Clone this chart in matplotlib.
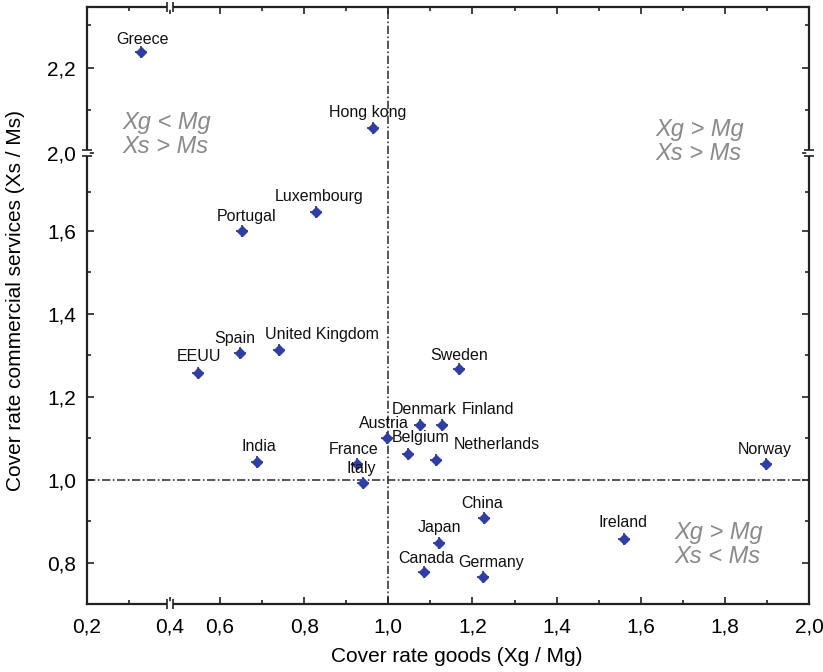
import numpy as np
import matplotlib
matplotlib.use("Agg")
import matplotlib.pyplot as plt
from matplotlib import transforms
from matplotlib.path import Path

plt.rcParams['font.family'] = ['Liberation Sans', 'DejaVu Sans']

countries = ['Greece', 'Hong kong', 'Luxembourg', 'Portugal', 'EEUU', 'Spain',
             'United Kingdom', 'India', 'France', 'Italy', 'Austria', 'Belgium',
             'Denmark', 'Finland', 'Netherlands', 'Sweden', 'Norway', 'China',
             'Japan', 'Canada', 'Germany', 'Ireland']
goods = [0.33, 0.964, 0.829, 0.653, 0.51, 0.648, 0.741, 0.689, 0.926, 0.941,
         0.998, 1.048, 1.076, 1.128, 1.114, 1.169, 1.898, 1.228, 1.121, 1.086,
         1.225, 1.561]
services = [2.237, 2.058, 1.70, 1.60, 1.258, 1.306, 1.313, 1.043, 1.039, 0.993,
            1.101, 1.063, 1.133, 1.133, 1.048, 1.267, 1.039, 0.908, 0.848, 0.778,
            0.764, 0.858]
# label offset from marker, pixels (x right, y up)
label_off = [(2, 13), (-5, 16), (3, 15), (4, 14), (1, 16), (-5, 14),
             (43, 15), (1, 15), (-4, 14), (-2, 14), (-4, 14), (12, 16),
             (4, 15), (46, 15), (61, 15), (0, 14), (-1, 14), (-2, 14),
             (0, 15), (2, 13), (8, 15), (-1, 16)]

xticks = [0.2, 0.4, 0.6, 0.8, 1.0, 1.2, 1.4, 1.6, 1.8, 2.0]
xminor = [0.3, 0.7, 0.9, 1.1, 1.3, 1.5, 1.7, 1.9]
yticks = [0.8, 1.0, 1.2, 1.4, 1.6, 2.0, 2.2]
yminor = [0.9, 1.1, 1.3, 1.5, 1.8, 2.1, 2.3]

# broken axes: piecewise linear scales
x_knots, x_pos = [0.2, 0.4, 0.6, 2.0], [0, 83, 133, 722]
y_knots, y_pos = [0.7, 1.6, 2.0, 2.343], [0, 373, 451, 597]


def piecewise(kin, kout):
    kin = np.asarray(kin, float)
    kout = np.asarray(kout, float)
    s0 = (kout[1] - kout[0]) / (kin[1] - kin[0])
    s1 = (kout[-1] - kout[-2]) / (kin[-1] - kin[-2])

    def f(v):
        v = np.asarray(v, float)
        out = np.interp(v, kin, kout)
        out = np.where(v < kin[0], kout[0] + (v - kin[0]) * s0, out)
        out = np.where(v > kin[-1], kout[-1] + (v - kin[-1]) * s1, out)
        return out
    return f


fig = plt.figure(figsize=(8.23, 6.72), dpi=100)
ax = fig.add_axes([87 / 823, 1 - 604 / 672, 722 / 823, 597 / 672])
ax.set_xscale('function', functions=(piecewise(x_knots, x_pos), piecewise(x_pos, x_knots)))
ax.set_yscale('function', functions=(piecewise(y_knots, y_pos), piecewise(y_pos, y_knots)))
ax.set_xlim(0.2, 2.0)
ax.set_ylim(0.7, 2.343)

ax.axhline(1.0, color='#3a3a3a', lw=1.2, dashes=(5, 1.5, 1, 1.5), zorder=1)
ax.axvline(1.0, color='#3a3a3a', lw=1.2, dashes=(5, 1.5, 1, 1.5), zorder=1)

blue = '#2f3ea0'
ax.plot(goods, services, 'D', ms=5.5, color=blue, mec=blue, zorder=3)
ax.plot(goods, services, '+', ms=8.5, mew=1.3, color=blue, zorder=3)

for name, x, y, off in zip(countries, goods, services, label_off):
    ax.annotate(name, (x, y), xytext=off, textcoords='offset pixels',
                ha='center', va='center', fontsize=11.5, color='#111111')

quad = dict(fontsize=17, style='italic', color='#8a8a8a', ha='left', va='center',
            linespacing=1.05, transform=ax.transAxes)
ax.text(0.0485, 0.787, 'Xg < Mg\nXs > Ms', **quad)
ax.text(0.788, 0.775, 'Xg > Mg\nXs > Ms', **quad)
ax.text(0.813, 0.100, 'Xg > Mg\nXs < Ms', **quad)

ax.set_xticks(xticks)
ax.set_xticklabels([f'{v:.1f}'.replace('.', ',') for v in xticks])
ax.set_xticks(xminor, minor=True)
ax.set_yticks(yticks)
ax.set_yticklabels([f'{v:.1f}'.replace('.', ',') for v in yticks])
ax.set_yticks(yminor, minor=True)
ax.tick_params(which='both', direction='in', top=True, right=True, labelsize=15,
               width=1.2, color='#222222')
ax.tick_params(which='major', length=5)
ax.tick_params(which='minor', length=3)
ax.tick_params(axis='x', pad=10)
ax.tick_params(axis='y', pad=8)
for s in ax.spines.values():
    s.set_linewidth(1.6)
    s.set_color('#222222')

ax.set_xlabel('Cover rate goods (Xg / Mg)', fontsize=15)
ax.set_ylabel('Cover rate commercial services (Xs / Ms)', fontsize=15)
ax.xaxis.set_label_coords(0.5125, -0.072)
ax.yaxis.set_label_coords(-0.086, 0.509)

# break symbols on spines
vbreak = Path([(-0.6, -1), (-0.6, 1), (0.6, -1), (0.6, 1)],
              [Path.MOVETO, Path.LINETO, Path.MOVETO, Path.LINETO])
hbreak = Path([(-1, -0.6), (1, -0.6), (-1, 0.6), (1, 0.6)],
              [Path.MOVETO, Path.LINETO, Path.MOVETO, Path.LINETO])
tx = transforms.blended_transform_factory(ax.transData, ax.transAxes)
ty = transforms.blended_transform_factory(ax.transAxes, ax.transData)
for yf in (0, 1):
    ax.plot([0.4], [yf], transform=tx, marker='_', ms=4, mew=4, color='white',
            clip_on=False, zorder=5)
    ax.plot([0.4], [yf], transform=tx, marker=vbreak, ms=7, mew=1.2,
            color='#222222', clip_on=False, zorder=6)
for xf in (0, 1):
    ax.plot([xf], [2.0], transform=ty, marker='|', ms=4, mew=4, color='white',
            clip_on=False, zorder=5)
    ax.plot([xf], [2.0], transform=ty, marker=hbreak, ms=7, mew=1.2,
            color='#222222', clip_on=False, zorder=6)

fig.savefig('out.png', dpi=100)
